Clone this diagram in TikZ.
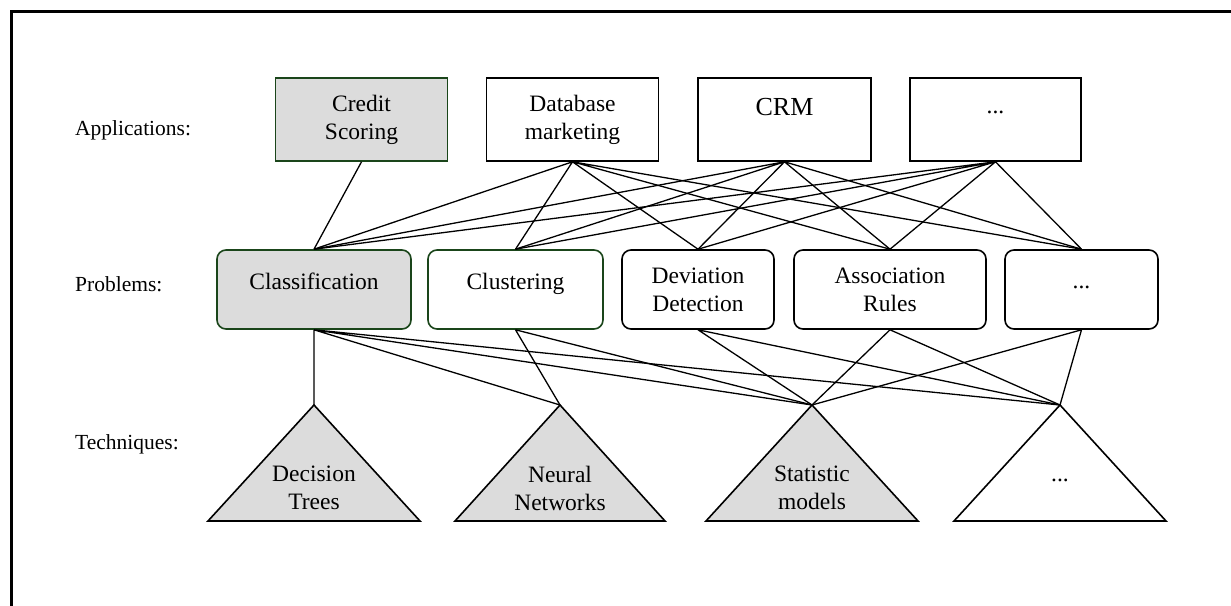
\documentclass[tikz,border=0pt]{standalone}
\usepackage{fontspec}
\setmainfont{Liberation Serif}
\usetikzlibrary{positioning}
\definecolor{hitgray}{HTML}{DCDCDC}
\definecolor{hitgreen}{HTML}{1A451A}
\newcommand{\lift}[2]{\raisebox{#1}[17pt][5pt]{#2}}

\begin{document}
\begin{tikzpicture}[
  x=1pt,y=-1pt,
  font=\fontsize{23.5}{28}\selectfont,
  app/.style={draw,line width=1.6pt,minimum width=172pt,minimum height=83pt,
              align=center,inner sep=0pt},
  prob/.style={draw,line width=1.6pt,rounded corners=9pt,minimum height=79pt,
               align=center,inner sep=0pt},
  hit/.style={fill=hitgray,draw=hitgreen},
  picked/.style={draw=hitgreen},
  tech/.style={draw,line width=1.6pt},
  techtext/.style={align=center,inner sep=0pt},
  link/.style={line width=1.3pt},
  rowlabel/.style={anchor=west,inner sep=0pt,font=\fontsize{21.5}{26}\selectfont},
]
\useasboundingbox (0,0) rectangle (1231,605);

%% ===== Frame =================================================================
\draw[line width=3pt] (11,610) -- (11,11) -- (1235,11);

%% ===== Row labels ============================================================
\node[rowlabel] (lapp)  at (75,130) {Applications:};
\node[rowlabel] (lprob) at (75,284) {Problems:};
\node[rowlabel] (ltech) at (75,444) {Techniques:};

%% ===== Applications ==========================================================
\node[app,hit] (credit) at (361.5,119.5) {Credit\\Scoring};
\node[app]     (dbm)    at (572.5,119.5) {Database\\marketing};
\node[app,minimum width=173pt] (crm) at (784.5,119.5)
  {\lift{10pt}{\fontsize{26}{28}\selectfont CRM}};
\node[app,minimum width=171pt] (moreapp) at (995.5,119.5) {\lift{12pt}{...}};

%% ===== Problems ==============================================================
\node[prob,hit,minimum width=194pt]    (class) at (314,289.5) {\lift{6pt}{Classification}};
\node[prob,picked,minimum width=175pt] (clust) at (515.5,289.5) {\lift{6pt}{Clustering}};
\node[prob,minimum width=152pt] (dev)   at (698,289.5) {Deviation\\Detection};
\node[prob,minimum width=192pt] (assoc) at (890,289.5) {Association\\Rules};
\node[prob,minimum width=153pt] (moreprob) at (1081.5,289.5) {\lift{7pt}{...}};

%% ===== Techniques ============================================================
\coordinate (dtree) at (314,405);
\coordinate (nnet)  at (560,405);
\coordinate (stat)  at (812,405);
\coordinate (moretech) at (1060,405);
\draw[tech,fill=hitgray] (dtree) -- (208,521) -- (420,521) -- cycle;
\draw[tech,fill=hitgray] (nnet)  -- (455,521) -- (665,521) -- cycle;
\draw[tech,fill=hitgray] (stat)  -- (706,521) -- (918,521) -- cycle;
\draw[tech,fill=white]   (moretech) -- (954,521) -- (1166,521) -- cycle;
\node[techtext] (dtreetext) at (314,488) {Decision\\Trees};
\node[techtext] (nnettext)  at (560,488) {Neural\\Networks};
\node[techtext] (stattext)  at (812,488) {Statistic\\models};
\node[techtext] (moretechtext) at (1060,480) {...};

%% ===== Applications -> problems ==============================================
\draw[link] (credit.south) -- (class.north);
\draw[link] (dbm.south) -- (class.north) (dbm.south) -- (clust.north)
            (dbm.south) -- (dev.north)   (dbm.south) -- (assoc.north)
            (dbm.south) -- (moreprob.north);
\draw[link] (crm.south) -- (class.north) (crm.south) -- (clust.north)
            (crm.south) -- (dev.north)   (crm.south) -- (assoc.north)
            (crm.south) -- (moreprob.north);
\draw[link] (moreapp.south) -- (class.north) (moreapp.south) -- (clust.north)
            (moreapp.south) -- (dev.north)   (moreapp.south) -- (assoc.north)
            (moreapp.south) -- (moreprob.north);

%% ===== Problems -> techniques ================================================
\draw[link] (class.south) -- (dtree) (class.south) -- (nnet)
            (class.south) -- (stat)  (class.south) -- (moretech);
\draw[link] (clust.south) -- (nnet) (clust.south) -- (stat);
\draw[link] (dev.south) -- (stat) (dev.south) -- (moretech);
\draw[link] (assoc.south) -- (stat) (assoc.south) -- (moretech);
\draw[link] (moreprob.south) -- (stat) (moreprob.south) -- (moretech);

\end{tikzpicture}
\end{document}
